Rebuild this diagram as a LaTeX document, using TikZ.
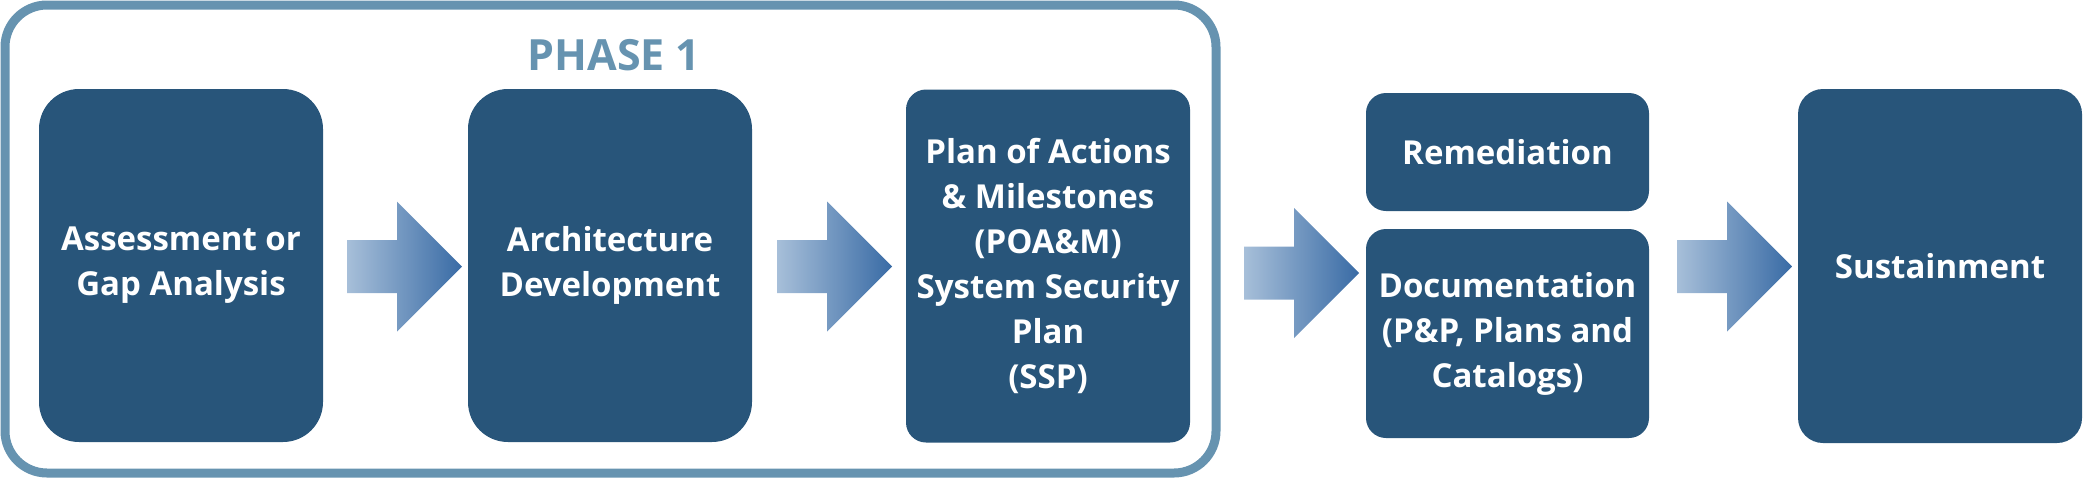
\documentclass[tikz,border=0pt]{standalone}
\usepackage{fontspec}
\setmainfont{Open Sans}
\definecolor{boxblue}{HTML}{28557A}
\definecolor{framecol}{HTML}{6693B0}
\definecolor{arrowlight}{HTML}{A7BFD9}
\definecolor{arrowdark}{HTML}{396BA5}
\begin{document}
\begin{tikzpicture}[x=1pt,y=-1pt,
  stage/.style={fill=boxblue, text=white, align=center, inner sep=0pt,
    font=\bfseries\fontsize{33}{45}\selectfont, minimum width=284pt},
  tall/.style={stage, minimum height=353pt, rounded corners=40pt},
  tallb/.style={stage, minimum height=353pt, rounded corners=20pt},
  arrowshade/.style={left color=arrowlight, right color=arrowdark, draw=none}]
\useasboundingbox (0,0) rectangle (2084,480);
% phase 1 frame
\draw[line width=9pt, framecol, rounded corners=42pt] (5,5) rectangle (1216,473);
\node[text=framecol, font=\bfseries\fontsize{43}{45}\selectfont] (phase) at (614,55) {PHASE 1};
% boxes
\node[tall] (assess) at (181,265.5) {Assessment or\\Gap Analysis};
\node[tall] (arch) at (610,265.5) {Architecture\\Development};
\node[tallb] (poam) at (1048,266) {Plan of Actions\\\& Milestones\\(POA\&M)\\System Security\\Plan\\(SSP)};
\node[stage, minimum height=118pt, minimum width=283pt, rounded corners=20pt] (remed) at (1507.5,152) {Remediation};
\node[stage, minimum height=209pt, minimum width=283pt, rounded corners=20pt] (doc) at (1507.5,333.5) {Documentation\\(P\&P, Plans and\\Catalogs)};
\node[stage, minimum height=354pt, rounded corners=25pt] (sust) at (1940,266) {Sustainment};
% block arrows
\newcommand\blockarrow[2]{%
  \shade[arrowshade] (#1,#2-26.5) -- (#1+50,#2-26.5) -- (#1+50,#2-65) -- (#1+115,#2)
    -- (#1+50,#2+65) -- (#1+50,#2+26.5) -- (#1,#2+26.5) -- cycle;}
\blockarrow{347}{266.5}
\blockarrow{777}{266.5}
\blockarrow{1244}{273}
\blockarrow{1677}{266.5}
\end{tikzpicture}
\end{document}
